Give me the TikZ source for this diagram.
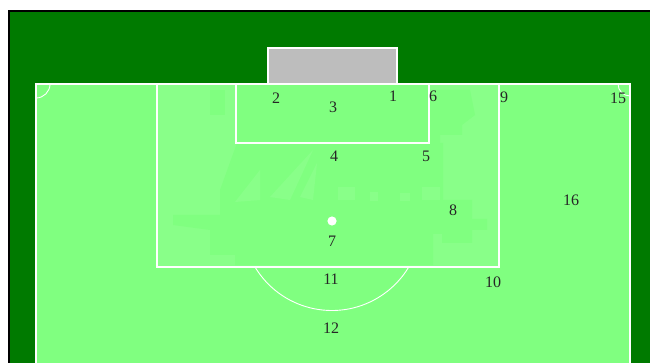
\documentclass[tikz,border=0pt]{standalone}
\usepackage{fontspec}
\setmainfont{Liberation Serif}
\definecolor{pitchdark}{HTML}{007A00}
\definecolor{pitchlight}{HTML}{80FF80}
\definecolor{boxlight}{HTML}{89FF89}
\definecolor{goalgray}{HTML}{BDBDBD}
\tikzset{
  line/.style={draw=white, line width=1.4pt},
  thinline/.style={draw=white, line width=0.9pt},
  spotlabel/.style={font=\fontsize{16}{16}\selectfont, text=black!85, inner sep=0pt}
}
\begin{document}
\begin{tikzpicture}[x=1pt, y=-1pt]
\useasboundingbox (0,0) rectangle (650,363);

% Background
\fill[white] (0,0) rectangle (650,363);
\fill[pitchdark] (9,11) rectangle (650,363);
\draw[black, line width=2.4pt] (9,363) -- (9,11) -- (650,11);

% Pitch
\fill[pitchlight] (36,84) rectangle (630,363);
\fill[boxlight] (157,84) rectangle (499,267);

% Faint patches in the penalty box
\fill[pitchlight] (236,84) rectangle (429,143);
\fill[pitchlight] (210,90) rectangle (225,115);
\fill[pitchlight] (429,90) -- (470,90) -- (475,115) -- (462,125) -- (462,135) -- (440,135) -- (440,143) -- (429,143) -- cycle;
\fill[pitchlight] (237,143) -- (443,143) -- (443,200) -- (472,200) -- (472,219) -- (487,219) -- (487,230) -- (472,230) -- (472,243) -- (442,243) -- (442,234) -- (433,234) -- (433,265) -- (235,265) -- (235,255) -- (210,255) -- (210,230) -- (173,225) -- (173,215) -- (220,215) -- (220,190) -- cycle;
\fill[boxlight] (260,170) -- (235,202) -- (260,200) -- cycle;
\fill[boxlight] (313,150) -- (270,197) -- (290,200) -- cycle;
\fill[boxlight] (317,163) -- (300,197) -- (313,200) -- cycle;
\fill[boxlight] (338,187) rectangle (355,200);
\fill[boxlight] (370,192) rectangle (378,201);
\fill[boxlight] (400,193) rectangle (410,201);
\fill[boxlight] (422,187) rectangle (440,200);

% Goal
\fill[goalgray] (268,48) rectangle (397,84);
\draw[line] (268,84) -- (268,48) -- (397,48) -- (397,84);

% Lines
\draw[line] (36,363) -- (36,84) -- (630,84) -- (630,363);
\draw[line] (157,84) -- (157,267) -- (499,267) -- (499,84);
\draw[line] (236,84) -- (236,143) -- (429,143) -- (429,84);
\draw[thinline] (50,84) arc[start angle=0, end angle=90, radius=14];
\draw[thinline] (618,84) arc[start angle=180, end angle=90, radius=12];
\draw[thinline] (255,267) arc[start angle=149, end angle=31, radius=89.7];
\fill[white] (332,221) circle (4.6);

% Labels
\node[spotlabel] (n1) at (393,96) {1};
\node[spotlabel] (n2) at (276,98) {2};
\node[spotlabel] (n3) at (333,107) {3};
\node[spotlabel] (n4) at (334,156) {4};
\node[spotlabel] (n5) at (426,156) {5};
\node[spotlabel] (n6) at (433,96) {6};
\node[spotlabel] (n7) at (332,241) {7};
\node[spotlabel] (n8) at (453,210) {8};
\node[spotlabel] (n9) at (504,97) {9};
\node[spotlabel] (n10) at (493,282) {10};
\node[spotlabel] (n11) at (331,279) {11};
\node[spotlabel] (n12) at (331,328) {12};
\node[spotlabel] (n15) at (618,98) {15};
\node[spotlabel] (n16) at (571,200) {16};
\end{tikzpicture}
\end{document}
